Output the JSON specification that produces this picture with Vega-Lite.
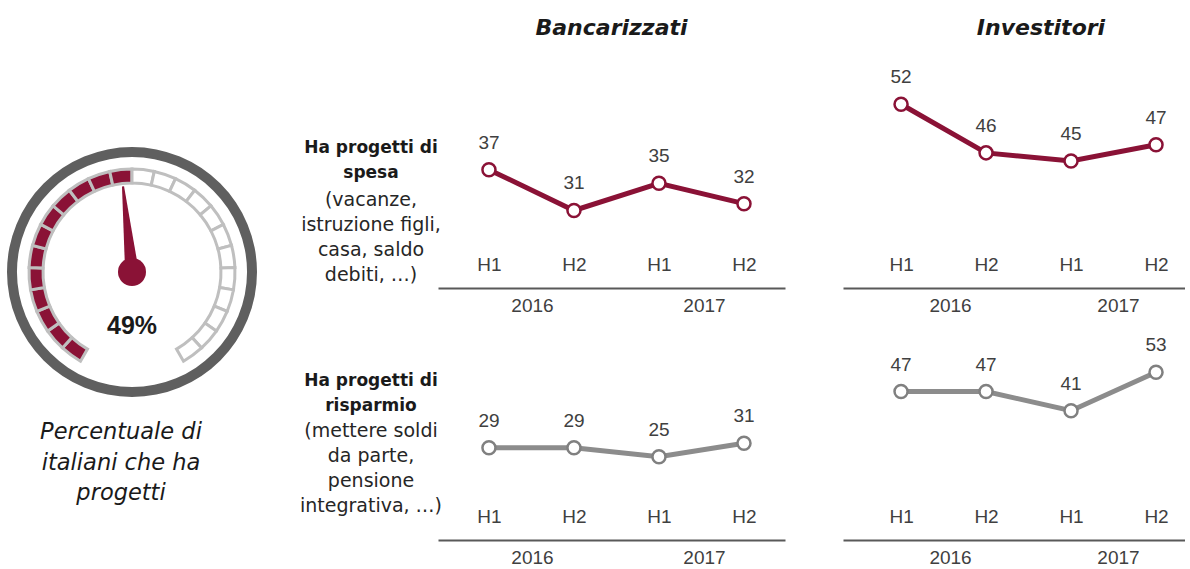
{
  "$schema": "https://vega.github.io/schema/vega-lite/v6.json",
  "background": "white",
  "padding": {"left": 0, "top": 17, "right": 0, "bottom": 0},
  "config": {"view": {"stroke": null}, "font": "DejaVu Sans"},
  "datasets": {
    "serie": [
      {"gruppo": "Bancarizzati", "progetto": "spesa", "anno": 2016, "periodo": "2016 H1", "valore": 37},
      {"gruppo": "Bancarizzati", "progetto": "spesa", "anno": 2016, "periodo": "2016 H2", "valore": 31},
      {"gruppo": "Bancarizzati", "progetto": "spesa", "anno": 2017, "periodo": "2017 H1", "valore": 35},
      {"gruppo": "Bancarizzati", "progetto": "spesa", "anno": 2017, "periodo": "2017 H2", "valore": 32},
      {"gruppo": "Investitori", "progetto": "spesa", "anno": 2016, "periodo": "2016 H1", "valore": 52},
      {"gruppo": "Investitori", "progetto": "spesa", "anno": 2016, "periodo": "2016 H2", "valore": 46},
      {"gruppo": "Investitori", "progetto": "spesa", "anno": 2017, "periodo": "2017 H1", "valore": 45},
      {"gruppo": "Investitori", "progetto": "spesa", "anno": 2017, "periodo": "2017 H2", "valore": 47},
      {"gruppo": "Bancarizzati", "progetto": "risparmio", "anno": 2016, "periodo": "2016 H1", "valore": 29},
      {"gruppo": "Bancarizzati", "progetto": "risparmio", "anno": 2016, "periodo": "2016 H2", "valore": 29},
      {"gruppo": "Bancarizzati", "progetto": "risparmio", "anno": 2017, "periodo": "2017 H1", "valore": 25},
      {"gruppo": "Bancarizzati", "progetto": "risparmio", "anno": 2017, "periodo": "2017 H2", "valore": 31},
      {"gruppo": "Investitori", "progetto": "risparmio", "anno": 2016, "periodo": "2016 H1", "valore": 47},
      {"gruppo": "Investitori", "progetto": "risparmio", "anno": 2016, "periodo": "2016 H2", "valore": 47},
      {"gruppo": "Investitori", "progetto": "risparmio", "anno": 2017, "periodo": "2017 H1", "valore": 41},
      {"gruppo": "Investitori", "progetto": "risparmio", "anno": 2017, "periodo": "2017 H2", "valore": 53}
    ],
    "righe": [
      {"progetto": "spesa", "titolo": "Ha progetti di\nspesa", "dettaglio": "(vacanze,\nistruzione figli,\ncasa, saldo\ndebiti, …)"},
      {"progetto": "risparmio", "titolo": "Ha progetti di\nrisparmio", "dettaglio": "(mettere soldi\nda parte,\npensione\nintegrativa, …)"}
    ],
    "indicatore": [
      {"quota": 0.49, "descrizione": "Percentuale di\nitaliani che ha\nprogetti"}
    ],
    "segmenti": [
      {"segmento": 1, "parte": 1, "stato": "pieno"},
      {"segmento": 2, "parte": 1, "stato": "pieno"},
      {"segmento": 3, "parte": 1, "stato": "pieno"},
      {"segmento": 4, "parte": 1, "stato": "pieno"},
      {"segmento": 5, "parte": 1, "stato": "pieno"},
      {"segmento": 6, "parte": 1, "stato": "pieno"},
      {"segmento": 7, "parte": 1, "stato": "pieno"},
      {"segmento": 8, "parte": 1, "stato": "pieno"},
      {"segmento": 9, "parte": 1, "stato": "pieno"},
      {"segmento": 10, "parte": 1, "stato": "pieno"},
      {"segmento": 11, "parte": 1, "stato": "pieno"},
      {"segmento": 12, "parte": 1, "stato": "pieno"},
      {"segmento": 13, "parte": 1, "stato": "vuoto"},
      {"segmento": 14, "parte": 1, "stato": "vuoto"},
      {"segmento": 15, "parte": 1, "stato": "vuoto"},
      {"segmento": 16, "parte": 1, "stato": "vuoto"},
      {"segmento": 17, "parte": 1, "stato": "vuoto"},
      {"segmento": 18, "parte": 1, "stato": "vuoto"},
      {"segmento": 19, "parte": 1, "stato": "vuoto"},
      {"segmento": 20, "parte": 1, "stato": "vuoto"},
      {"segmento": 21, "parte": 1, "stato": "vuoto"},
      {"segmento": 22, "parte": 1, "stato": "vuoto"},
      {"segmento": 23, "parte": 1, "stato": "vuoto"},
      {"segmento": 24, "parte": 1, "stato": "vuoto"}
    ]
  },
  "spacing": 35,
  "hconcat": [
    {
      "width": 264,
      "height": 422,
      "layer": [
        {
          "data": {"name": "indicatore"},
          "mark": {"type": "arc", "theta": 0, "theta2": 6.2832, "radius": 125, "radius2": 115, "color": "#5f5f5f"},
          "encoding": {}
        },
        {
          "data": {"name": "segmenti"},
          "mark": {"type": "arc", "radius": 103, "radius2": 89, "stroke": "#bfbfbf", "strokeWidth": 3},
          "encoding": {
            "theta": {"field": "parte", "type": "quantitative", "stack": true, "scale": {"domain": [0, 24], "range": [-2.618, 2.618]}},
            "order": {"field": "segmento", "type": "quantitative"},
            "color": {"field": "stato", "type": "nominal", "scale": {"domain": ["pieno", "vuoto"], "range": ["#8A1236", "#ffffff"]}, "legend": null}
          }
        },
        {
          "data": {"name": "indicatore"},
          "mark": {"type": "point", "shape": "M -0.08 0 L -0.012 -1 L 0.012 -1 L 0.08 0 Z", "size": 29584, "angle": -6, "filled": true, "color": "#8A1236", "opacity": 1, "strokeWidth": 0},
          "encoding": {}
        },
        {
          "data": {"name": "indicatore"},
          "mark": {"type": "point", "shape": "circle", "size": 784, "filled": true, "color": "#8A1236", "opacity": 1},
          "encoding": {}
        },
        {
          "data": {"name": "indicatore"},
          "mark": {"type": "text", "dy": 54, "fontSize": 25, "fontWeight": "bold", "font": "Liberation Sans", "color": "#1a1a1a", "baseline": "middle"},
          "encoding": {"text": {"field": "quota", "type": "quantitative", "format": ".0%"}}
        },
        {
          "data": {"name": "indicatore"},
          "mark": {"type": "text", "dy": 160, "dx": -11, "fontSize": 22.5, "fontStyle": "italic", "font": "DejaVu Sans", "color": "#1a1a1a", "lineBreak": "\n", "lineHeight": 30.5, "baseline": "middle"},
          "encoding": {"text": {"field": "descrizione"}}
        }
      ]
    },
    {
      "spacing": 20,
      "vconcat": [
        {
          "bounds": "flush",
          "spacing": 58,
          "hconcat": [
            {
              "width": 18,
              "height": 227,
              "data": {"name": "righe"},
              "transform": [{"filter": "datum.progetto == 'spesa'"}],
              "layer": [
                {"mark": {"type": "text", "font": "DejaVu Sans", "fontWeight": "bold", "fontSize": 17, "lineBreak": "\n", "lineHeight": 25, "baseline": "middle", "dy": -27, "color": "#1a1a1a"}, "encoding": {"text": {"field": "titolo"}}},
                {"mark": {"type": "text", "font": "DejaVu Sans", "fontSize": 19, "lineBreak": "\n", "lineHeight": 25, "baseline": "middle", "dy": 25, "color": "#262626"}, "encoding": {"text": {"field": "dettaglio"}}}
              ]
            },
            {
              "width": 347,
              "height": 227,
              "title": {"text": "Bancarizzati", "font": "DejaVu Sans", "fontSize": 22, "fontStyle": "italic", "fontWeight": "bold", "color": "#1a1a1a", "offset": 21, "anchor": "middle"},
              "data": {"name": "serie"},
              "transform": [{"filter": "datum.gruppo == 'Bancarizzati' && datum.progetto == 'spesa'"}],
              "resolve": {"scale": {"x": "independent"}},
              "layer": [
                {
                  "encoding": {
                    "x": {"field": "periodo", "type": "ordinal", "scale": {"type": "point", "padding": 0.541, "align": 0.554}, "axis": {"orient": "bottom", "domain": false, "ticks": false, "tickSize": 0, "labelPadding": -24, "labelBaseline": "middle", "labelAngle": 0, "labelFont": "Liberation Sans", "labelFontSize": 19, "labelColor": "#404040", "labelExpr": "split(datum.value, ' ')[1]", "title": null, "grid": false}},
                    "y": {"field": "valore", "type": "quantitative", "scale": {"domain": [19.6, 52.98]}, "axis": null}
                  },
                  "layer": [
                    {"mark": {"type": "line", "color": "#8A1236", "strokeWidth": 5}},
                    {"mark": {"type": "point", "shape": "circle", "filled": true, "fill": "white", "stroke": "#8A1236", "strokeWidth": 2.5, "size": 170, "opacity": 1}},
                    {"mark": {"type": "text", "dy": -27, "baseline": "middle", "font": "Liberation Sans", "fontSize": 19, "color": "#404040"}, "encoding": {"text": {"field": "valore", "type": "quantitative"}}}
                  ]
                },
                {
                  "mark": {"type": "point", "opacity": 0},
                  "encoding": {
                    "x": {"field": "anno", "type": "ordinal", "scale": {"type": "point", "padding": 0.5087, "align": 0.537}, "axis": {"orient": "bottom", "domain": true, "domainColor": "#595959", "domainWidth": 2, "ticks": false, "tickSize": 0, "labelPadding": 8, "labelAngle": 0, "labelFont": "Liberation Sans", "labelFontSize": 19, "labelColor": "#404040", "title": null, "grid": false}}
                  }
                }
              ]
            },
            {
              "width": 342,
              "height": 227,
              "title": {"text": "Investitori", "font": "DejaVu Sans", "fontSize": 22, "fontStyle": "italic", "fontWeight": "bold", "color": "#1a1a1a", "offset": 21, "anchor": "middle", "dx": 27},
              "data": {"name": "serie"},
              "transform": [{"filter": "datum.gruppo == 'Investitori' && datum.progetto == 'spesa'"}],
              "resolve": {"scale": {"x": "independent"}},
              "layer": [
                {
                  "encoding": {
                    "x": {"field": "periodo", "type": "ordinal", "scale": {"type": "point", "padding": 0.512, "align": 0.667}, "axis": {"orient": "bottom", "domain": false, "ticks": false, "tickSize": 0, "labelPadding": -24, "labelBaseline": "middle", "labelAngle": 0, "labelFont": "Liberation Sans", "labelFontSize": 19, "labelColor": "#404040", "labelExpr": "split(datum.value, ' ')[1]", "title": null, "grid": false}},
                    "y": {"field": "valore", "type": "quantitative", "scale": {"domain": [29.32, 57.34]}, "axis": null}
                  },
                  "layer": [
                    {"mark": {"type": "line", "color": "#8A1236", "strokeWidth": 5}},
                    {"mark": {"type": "point", "shape": "circle", "filled": true, "fill": "white", "stroke": "#8A1236", "strokeWidth": 2.5, "size": 170, "opacity": 1}},
                    {"mark": {"type": "text", "dy": -27, "baseline": "middle", "font": "Liberation Sans", "fontSize": 19, "color": "#404040"}, "encoding": {"text": {"field": "valore", "type": "quantitative"}}}
                  ]
                },
                {
                  "mark": {"type": "point", "opacity": 0},
                  "encoding": {
                    "x": {"field": "anno", "type": "ordinal", "scale": {"type": "point", "padding": 0.518, "align": 0.615}, "axis": {"orient": "bottom", "domain": true, "domainColor": "#595959", "domainWidth": 2, "ticks": false, "tickSize": 0, "labelPadding": 8, "labelAngle": 0, "labelFont": "Liberation Sans", "labelFontSize": 19, "labelColor": "#404040", "title": null, "grid": false}}
                  }
                }
              ]
            }
          ]
        },
        {
          "bounds": "flush",
          "spacing": 58,
          "hconcat": [
            {
              "width": 18,
              "height": 205,
              "data": {"name": "righe"},
              "transform": [{"filter": "datum.progetto == 'risparmio'"}],
              "layer": [
                {"mark": {"type": "text", "font": "DejaVu Sans", "fontWeight": "bold", "fontSize": 17, "lineBreak": "\n", "lineHeight": 25, "baseline": "middle", "dy": -56.5, "color": "#1a1a1a"}, "encoding": {"text": {"field": "titolo"}}},
                {"mark": {"type": "text", "font": "DejaVu Sans", "fontSize": 19, "lineBreak": "\n", "lineHeight": 25, "baseline": "middle", "dy": -6.5, "color": "#262626"}, "encoding": {"text": {"field": "dettaglio"}}}
              ]
            },
            {
              "width": 347,
              "height": 205,
              "data": {"name": "serie"},
              "transform": [{"filter": "datum.gruppo == 'Bancarizzati' && datum.progetto == 'risparmio'"}],
              "resolve": {"scale": {"x": "independent"}},
              "layer": [
                {
                  "encoding": {
                    "x": {"field": "periodo", "type": "ordinal", "scale": {"type": "point", "padding": 0.541, "align": 0.554}, "axis": {"orient": "bottom", "domain": false, "ticks": false, "tickSize": 0, "labelPadding": -24, "labelBaseline": "middle", "labelAngle": 0, "labelFont": "Liberation Sans", "labelFontSize": 19, "labelColor": "#404040", "labelExpr": "split(datum.value, ' ')[1]", "title": null, "grid": false}},
                    "y": {"field": "valore", "type": "quantitative", "scale": {"domain": [-12.35, 79.58]}, "axis": null}
                  },
                  "layer": [
                    {"mark": {"type": "line", "color": "#8c8c8c", "strokeWidth": 5}},
                    {"mark": {"type": "point", "shape": "circle", "filled": true, "fill": "white", "stroke": "#808080", "strokeWidth": 2.5, "size": 170, "opacity": 1}},
                    {"mark": {"type": "text", "dy": -27, "baseline": "middle", "font": "Liberation Sans", "fontSize": 19, "color": "#404040"}, "encoding": {"text": {"field": "valore", "type": "quantitative"}}}
                  ]
                },
                {
                  "mark": {"type": "point", "opacity": 0},
                  "encoding": {
                    "x": {"field": "anno", "type": "ordinal", "scale": {"type": "point", "padding": 0.5087, "align": 0.537}, "axis": {"orient": "bottom", "domain": true, "domainColor": "#595959", "domainWidth": 2, "ticks": false, "tickSize": 0, "labelPadding": 8, "labelAngle": 0, "labelFont": "Liberation Sans", "labelFontSize": 19, "labelColor": "#404040", "title": null, "grid": false}}
                  }
                }
              ]
            },
            {
              "width": 342,
              "height": 205,
              "data": {"name": "serie"},
              "transform": [{"filter": "datum.gruppo == 'Investitori' && datum.progetto == 'risparmio'"}],
              "resolve": {"scale": {"x": "independent"}},
              "layer": [
                {
                  "encoding": {
                    "x": {"field": "periodo", "type": "ordinal", "scale": {"type": "point", "padding": 0.512, "align": 0.667}, "axis": {"orient": "bottom", "domain": false, "ticks": false, "tickSize": 0, "labelPadding": -24, "labelBaseline": "middle", "labelAngle": 0, "labelFont": "Liberation Sans", "labelFontSize": 19, "labelColor": "#404040", "labelExpr": "split(datum.value, ' ')[1]", "title": null, "grid": false}},
                    "y": {"field": "valore", "type": "quantitative", "scale": {"domain": [0.6, 64.66]}, "axis": null}
                  },
                  "layer": [
                    {"mark": {"type": "line", "color": "#8c8c8c", "strokeWidth": 5}},
                    {"mark": {"type": "point", "shape": "circle", "filled": true, "fill": "white", "stroke": "#808080", "strokeWidth": 2.5, "size": 170, "opacity": 1}},
                    {"mark": {"type": "text", "dy": -27, "baseline": "middle", "font": "Liberation Sans", "fontSize": 19, "color": "#404040"}, "encoding": {"text": {"field": "valore", "type": "quantitative"}}}
                  ]
                },
                {
                  "mark": {"type": "point", "opacity": 0},
                  "encoding": {
                    "x": {"field": "anno", "type": "ordinal", "scale": {"type": "point", "padding": 0.518, "align": 0.615}, "axis": {"orient": "bottom", "domain": true, "domainColor": "#595959", "domainWidth": 2, "ticks": false, "tickSize": 0, "labelPadding": 8, "labelAngle": 0, "labelFont": "Liberation Sans", "labelFontSize": 19, "labelColor": "#404040", "title": null, "grid": false}}
                  }
                }
              ]
            }
          ]
        }
      ]
    }
  ]
}
